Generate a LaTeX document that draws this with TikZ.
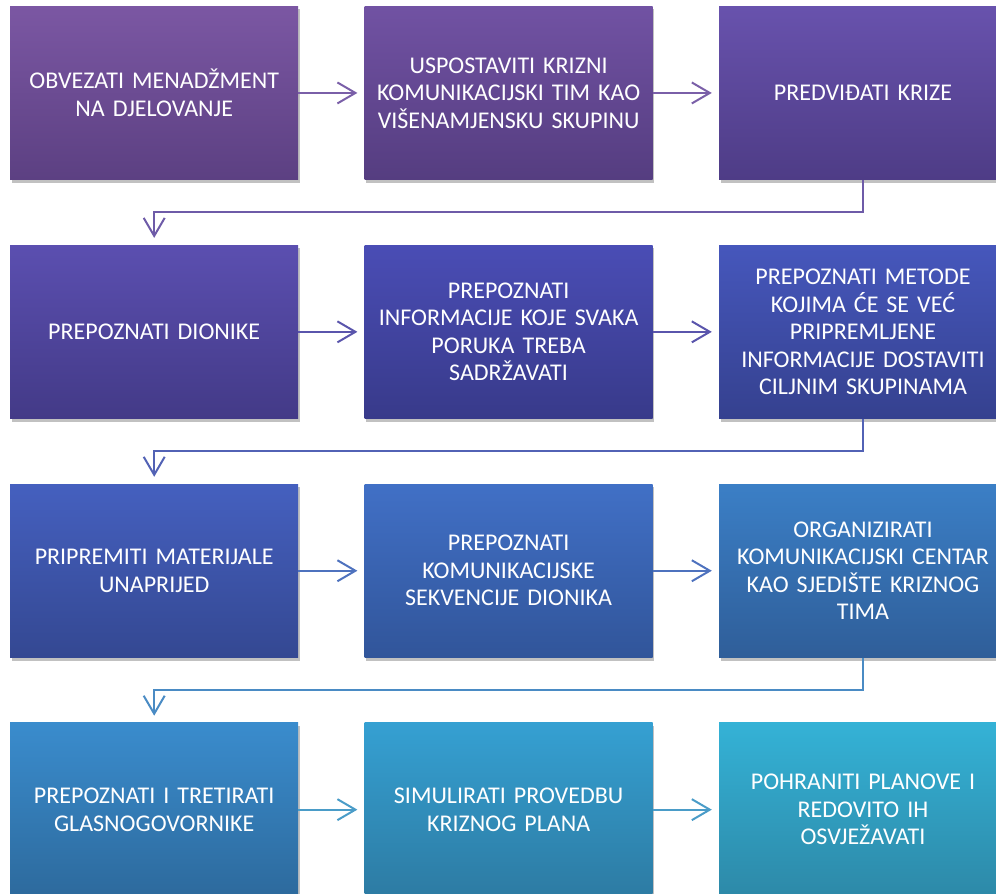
\documentclass[tikz,border=0pt]{standalone}
\usepackage{fontspec}
\setmainfont{Carlito}
\usetikzlibrary{shapes,arrows.meta,positioning,shadows}

% boje koraka (gore / dolje)
\definecolor{gA1}{HTML}{7B57A3}\definecolor{dA1}{HTML}{5C4082}
\definecolor{gA2}{HTML}{7152A3}\definecolor{dA2}{HTML}{553D80}
\definecolor{gA3}{HTML}{6852AD}\definecolor{dA3}{HTML}{4E3C86}
\definecolor{gB1}{HTML}{5B4FB0}\definecolor{dB1}{HTML}{433A87}
\definecolor{gB2}{HTML}{4A4DB5}\definecolor{dB2}{HTML}{383A8A}
\definecolor{gB3}{HTML}{4657BC}\definecolor{dB3}{HTML}{35418F}
\definecolor{gC1}{HTML}{4560BF}\definecolor{dC1}{HTML}{344892}
\definecolor{gC2}{HTML}{4170C6}\definecolor{dC2}{HTML}{31559A}
\definecolor{gC3}{HTML}{3B7FC6}\definecolor{dC3}{HTML}{2F5E99}
\definecolor{gD1}{HTML}{3A8CCD}\definecolor{dD1}{HTML}{2D6A9D}
\definecolor{gD2}{HTML}{35A0D2}\definecolor{dD2}{HTML}{2D7BA3}
\definecolor{gD3}{HTML}{34B2D6}\definecolor{dD3}{HTML}{2D89A8}
% boje strelica
\definecolor{sA}{HTML}{7A5FA8}
\definecolor{sAB}{HTML}{6E5BA8}
\definecolor{sB}{HTML}{5A55AC}
\definecolor{sBC}{HTML}{5262B5}
\definecolor{sC}{HTML}{4E72BE}
\definecolor{sCD}{HTML}{4A8BC4}
\definecolor{sD}{HTML}{4A9CC8}

\begin{document}
\begin{tikzpicture}[x=1pt, y=-1pt,
    blok/.style={rectangle, minimum width=288pt, minimum height=173.5pt,
        inner sep=0pt, text width=282pt, align=center, text=white,
        font=\fontsize{24}{27.5}\selectfont,
        drop shadow={shadow xshift=1.5pt, shadow yshift=-3pt, opacity=.35, fill=black!70}},
    strelica/.style={line width=2pt, -{Straight Barb[length=18pt,width=21pt]}, shorten >=7pt}]

    \useasboundingbox (0,0) rectangle (996,894);

    	%-----Koraci-----
        % Obvezati menadzment
        \node [blok, anchor=north west, top color=gA1, bottom color=dA1] (obvezati) at (10,6) {%
            OBVEZATI MENADŽMENT\\NA DJELOVANJE
        };

        % Krizni tim
        \node [blok, right=66pt of obvezati, top color=gA2, bottom color=dA2] (tim) {%
            USPOSTAVITI KRIZNI\\KOMUNIKACIJSKI TIM KAO\\VIŠENAMJENSKU SKUPINU
        };

        % Predvidjati krize
        \node [blok, right=66pt of tim, top color=gA3, bottom color=dA3] (predvidjati) {%
            PREDVIĐATI KRIZE
        };

        % Dionici
        \node [blok, below=65pt of obvezati, top color=gB1, bottom color=dB1] (dionici) {%
            PREPOZNATI DIONIKE
        };

        % Informacije
        \node [blok, right=66pt of dionici, top color=gB2, bottom color=dB2] (informacije) {%
            PREPOZNATI\\INFORMACIJE KOJE SVAKA\\PORUKA TREBA\\SADRŽAVATI
        };

        % Metode
        \node [blok, right=66pt of informacije, top color=gB3, bottom color=dB3] (metode) {%
            PREPOZNATI METODE\\KOJIMA ĆE SE VEĆ\\PRIPREMLJENE\\INFORMACIJE DOSTAVITI\\CILJNIM SKUPINAMA
        };

        % Materijali
        \node [blok, below=65pt of dionici, top color=gC1, bottom color=dC1] (materijali) {%
            PRIPREMITI MATERIJALE\\UNAPRIJED
        };

        % Sekvencije
        \node [blok, right=66pt of materijali, top color=gC2, bottom color=dC2] (sekvencije) {%
            PREPOZNATI\\KOMUNIKACIJSKE\\SEKVENCIJE DIONIKA
        };

        % Komunikacijski centar
        \node [blok, right=66pt of sekvencije, top color=gC3, bottom color=dC3] (centar) {%
            ORGANIZIRATI\\KOMUNIKACIJSKI CENTAR\\KAO SJEDIŠTE KRIZNOG\\TIMA
        };

        % Glasnogovornici
        \node [blok, below=65pt of materijali, top color=gD1, bottom color=dD1] (glasnogovornici) {%
            PREPOZNATI I TRETIRATI\\GLASNOGOVORNIKE
        };

        % Simulacija
        \node [blok, right=66pt of glasnogovornici, top color=gD2, bottom color=dD2] (simulacija) {%
            SIMULIRATI PROVEDBU\\KRIZNOG PLANA
        };

        % Planovi
        \node [blok, right=66pt of simulacija, top color=gD3, bottom color=dD3] (planovi) {%
            POHRANITI PLANOVE I\\REDOVITO IH\\OSVJEŽAVATI
        };

        %-----Strelice-----
        \draw [strelica, sA] (obvezati) -- (tim);
        \draw [strelica, sA] (tim) -- (predvidjati);
        \draw [strelica, sAB] (predvidjati.south) -- ++(0,32.5) -| (dionici.north);

        \draw [strelica, sB] (dionici) -- (informacije);
        \draw [strelica, sB] (informacije) -- (metode);
        \draw [strelica, sBC] (metode.south) -- ++(0,32.5) -| (materijali.north);

        \draw [strelica, sC] (materijali) -- (sekvencije);
        \draw [strelica, sC] (sekvencije) -- (centar);
        \draw [strelica, sCD] (centar.south) -- ++(0,32.5) -| (glasnogovornici.north);

        \draw [strelica, sD] (glasnogovornici) -- (simulacija);
        \draw [strelica, sD] (simulacija) -- (planovi);

    \end{tikzpicture}
\end{document}
